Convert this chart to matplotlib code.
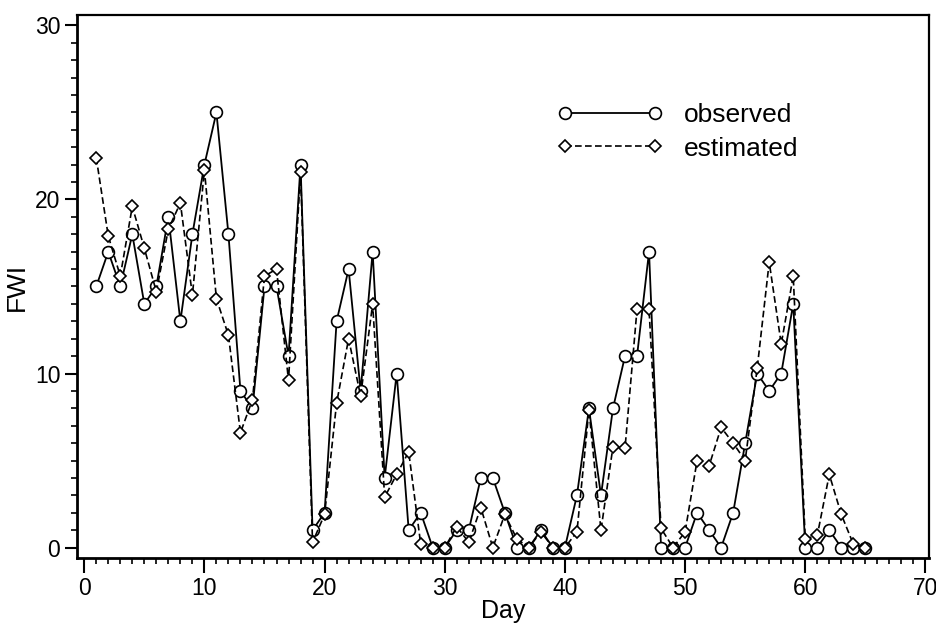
import matplotlib
matplotlib.use("Agg")
import matplotlib.pyplot as plt
from matplotlib.ticker import MultipleLocator
from matplotlib.transforms import ScaledTranslation

plt.rcParams["font.family"] = ["Liberation Sans", "DejaVu Sans"]

days = list(range(1, 66))

observed = [
    15, 17, 15, 18, 14, 15, 19, 13, 18, 22,
    25, 18, 9, 8, 15, 15, 11, 22, 1, 2,
    13, 16, 9, 17, 4, 10, 1, 2, 0, 0,
    1, 1, 4, 4, 2, 0, 0, 1, 0, 0,
    3, 8, 3, 8, 11, 11, 17, 0, 0, 0,
    2, 1, 0, 2, 6, 10, 9, 10, 14, 0,
    0, 1, 0, 0, 0,
]

estimated = [
    22.4, 17.9, 15.6, 19.6, 17.2, 14.7, 18.3, 19.8, 14.5, 21.7,
    14.3, 12.2, 6.6, 8.5, 15.6, 16.0, 9.6, 21.6, 0.3, 1.9,
    8.3, 12.0, 8.7, 14.0, 2.9, 4.2, 5.5, 0.2, 0.0, 0.0,
    1.2, 0.3, 2.3, 0.0, 1.9, 0.5, 0.0, 0.9, 0.0, 0.0,
    0.9, 7.9, 1.0, 5.8, 5.7, 13.7, 13.7, 1.1, 0.0, 0.9,
    5.0, 4.7, 6.9, 6.0, 5.0, 10.3, 16.4, 11.7, 15.6, 0.5,
    0.7, 4.2, 1.9, 0.2, 0.0,
]

fig = plt.figure(figsize=(9.37, 6.25), dpi=100)
ax = fig.add_axes([0.0822, 0.1072, 0.9093, 0.8688])

ax.plot(days, observed, color="black", linewidth=1.3, marker="o",
        markersize=8.5, markerfacecolor="white", markeredgecolor="black",
        markeredgewidth=1.2, label="observed")
ax.plot(days, estimated, color="black", linewidth=1.2, linestyle=(0, (4, 2)),
        marker="D", markersize=6.5, markerfacecolor="white",
        markeredgecolor="black", markeredgewidth=1.2, label="estimated")

ax.set_xlim(-0.6, 70.3)
ax.set_ylim(-0.6, 30.6)
ax.xaxis.set_major_locator(MultipleLocator(10))
ax.xaxis.set_minor_locator(MultipleLocator(1))
ax.yaxis.set_major_locator(MultipleLocator(10))
ax.yaxis.set_minor_locator(MultipleLocator(1))
ax.tick_params(axis="both", which="major", direction="out", length=9,
               width=1.5, labelsize=16.5, pad=3)
ax.tick_params(axis="both", which="minor", direction="out", length=4.5,
               width=1.2)
ax.tick_params(axis="x", which="major", length=11)

# the last x label sits at the right edge of the figure, nudge it in a bit
fig.canvas.draw()
last = ax.get_xticklabels()[-1]
last.set_transform(last.get_transform() +
                   ScaledTranslation(-3 / 100, 0, fig.dpi_scale_trans))

for spine in ax.spines.values():
    spine.set_linewidth(1.6)
ax.spines["left"].set_linewidth(2)
ax.spines["bottom"].set_linewidth(2)

ax.set_xlabel("Day", fontsize=18, labelpad=-1)
ax.set_ylabel("FWI", fontsize=19, labelpad=4)

ax.legend(loc="center left", bbox_to_anchor=(557 / 937, 1 - 132 / 625),
          bbox_transform=fig.transFigure, frameon=False, numpoints=2,
          fontsize=19, handlelength=4.0, handletextpad=0.8,
          labelspacing=0.35, borderpad=0, borderaxespad=0)

fig.savefig("out.png", dpi=100)
